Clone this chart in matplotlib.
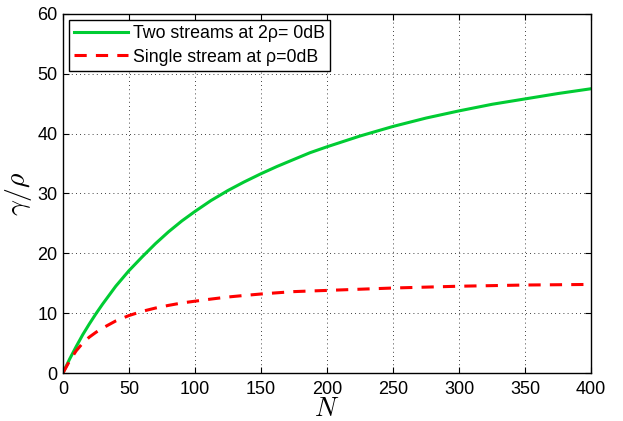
import matplotlib
matplotlib.use("Agg")
import matplotlib.pyplot as plt

N = [0, 5, 10, 15, 20, 25, 30, 40, 50, 60, 70, 80, 90, 100, 112, 125, 137, 150, 162, 175, 187, 200, 225, 250, 275, 300, 325, 350, 375, 400]
two_streams = [0, 2.3, 4.4, 6.4, 8.2, 9.9, 11.5, 14.5, 17.1, 19.4, 21.6, 23.6, 25.4, 27.0, 28.8, 30.5, 31.9, 33.3, 34.5, 35.7, 36.8, 37.8, 39.6, 41.2, 42.6, 43.8, 44.9, 45.8, 46.7, 47.5]
single_stream = [0, 2.0, 3.7, 5.0, 6.0, 6.8, 7.5, 8.7, 9.6, 10.3, 10.85, 11.3, 11.7, 12.0, 12.35, 12.7, 12.95, 13.2, 13.4, 13.6, 13.7, 13.8, 14.0, 14.2, 14.35, 14.5, 14.6, 14.7, 14.75, 14.8]
labels = ["Two streams at 2\u03c1= 0dB", "Single stream at \u03c1=0dB"]
xticks = [0, 50, 100, 150, 200, 250, 300, 350, 400]
yticks = [0, 10, 20, 30, 40, 50, 60]

plt.rcParams['font.family'] = ['Liberation Sans', 'DejaVu Sans']
plt.rcParams['mathtext.fontset'] = 'cm'

fig = plt.figure(figsize=(6.23, 4.21), dpi=100)
ax = fig.add_axes([0.101, 0.114, 0.848, 0.853])

ax.plot(N, two_streams, color='#00cc33', lw=2.2, label=labels[0])
ax.plot(N, single_stream, color='#ff0000', lw=2.2, ls=(0, (4, 3)), label=labels[1])

ax.set_xlim(0, 400)
ax.set_ylim(0, 60)
ax.set_xticks(xticks)
ax.set_yticks(yticks)
ax.tick_params(direction='in', top=True, right=True, labelsize=13, length=4, width=0.8)
ax.tick_params(axis='x', pad=6)
ax.tick_params(axis='y', pad=4)
ax.grid(True, color='black', ls=(0, (1, 4)), lw=0.6)
for s in ax.spines.values():
    s.set_linewidth(1.0)

ax.set_xlabel('$N$', fontsize=19, labelpad=-1)
ax.set_ylabel(r'$\gamma/\rho$', fontsize=20, labelpad=2)

leg = ax.legend(loc='upper left', fontsize=12.8, frameon=True, fancybox=False,
                edgecolor='black', framealpha=1, borderaxespad=0.35,
                handlelength=3.0, handletextpad=0.3, labelspacing=0.35, borderpad=0.3)
leg.get_frame().set_linewidth(1.0)

fig.savefig('out.png', dpi=100)
